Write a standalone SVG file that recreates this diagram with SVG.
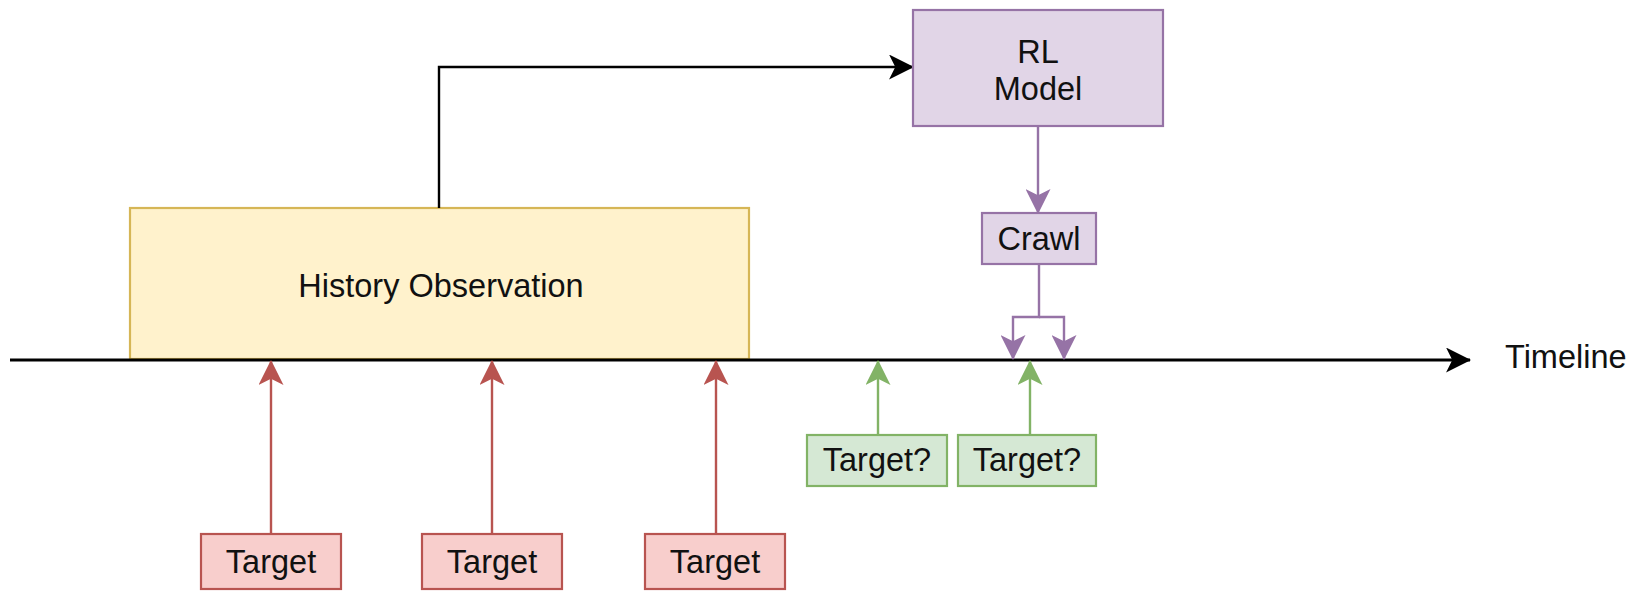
<svg xmlns="http://www.w3.org/2000/svg" width="1633" height="591" viewBox="0 0 1633 591">
  <style>
    .lbl { font-family: "Liberation Sans", Arial, sans-serif; font-size: 32.5px; fill: #111; text-anchor: middle; }
    .yellow { fill: #fff2cc; stroke: #d6b656; stroke-width: 2.2; }
    .purple { fill: #e1d5e7; stroke: #9673a6; stroke-width: 2.2; }
    .green { fill: #d5e8d4; stroke: #82b366; stroke-width: 2.2; }
    .red { fill: #f8cecc; stroke: #b85450; stroke-width: 2.2; }
    .edge { fill: none; stroke-width: 2.4; }
  </style>
  <defs>
    <marker id="arrBlack" viewBox="0 0 24 24" refX="23" refY="12" markerWidth="25" markerHeight="25" markerUnits="userSpaceOnUse" orient="auto">
      <path d="M0,0 L24,12 L0,24 L6,12 Z" fill="#000"/>
    </marker>
    <marker id="arrPurple" viewBox="0 0 24 24" refX="23" refY="12" markerWidth="25" markerHeight="25" markerUnits="userSpaceOnUse" orient="auto">
      <path d="M0,0 L24,12 L0,24 L6,12 Z" fill="#9673a6"/>
    </marker>
    <marker id="arrRed" viewBox="0 0 24 24" refX="23" refY="12" markerWidth="25" markerHeight="25" markerUnits="userSpaceOnUse" orient="auto">
      <path d="M0,0 L24,12 L0,24 L6,12 Z" fill="#b85450"/>
    </marker>
    <marker id="arrGreen" viewBox="0 0 24 24" refX="23" refY="12" markerWidth="25" markerHeight="25" markerUnits="userSpaceOnUse" orient="auto">
      <path d="M0,0 L24,12 L0,24 L6,12 Z" fill="#82b366"/>
    </marker>
  </defs>

  <rect width="1633" height="591" fill="#fff"/>

  <!-- history box sits on the timeline -->
  <g id="history">
    <rect class="yellow" x="130" y="208" width="619" height="151"/>
    <text class="lbl" x="441" y="297">History Observation</text>
  </g>

  <g id="connectors">
    <!-- timeline axis -->
    <path d="M10,360 H1470" stroke="#000" stroke-width="2.8" fill="none" marker-end="url(#arrBlack)"/>
    <!-- history to model -->
    <path class="edge" d="M439,208 V67 H913" stroke="#000" marker-end="url(#arrBlack)"/>
    <!-- model to crawl -->
    <path class="edge" d="M1038,126 V213" stroke="#9673a6" marker-end="url(#arrPurple)"/>
    <!-- crawl fan-out onto the timeline -->
    <path class="edge" d="M1039,264 V317 H1013 V359" stroke="#9673a6" marker-end="url(#arrPurple)"/>
    <path class="edge" d="M1039,317 H1064 V359" stroke="#9673a6" marker-end="url(#arrPurple)"/>
    <!-- observed targets -->
    <path class="edge" d="M271,534 V361" stroke="#b85450" marker-end="url(#arrRed)"/>
    <path class="edge" d="M492,534 V361" stroke="#b85450" marker-end="url(#arrRed)"/>
    <path class="edge" d="M716,534 V361" stroke="#b85450" marker-end="url(#arrRed)"/>
    <!-- unknown targets -->
    <path class="edge" d="M878,435 V361" stroke="#82b366" marker-end="url(#arrGreen)"/>
    <path class="edge" d="M1030,435 V361" stroke="#82b366" marker-end="url(#arrGreen)"/>
  </g>

  <g id="rl-model">
    <rect class="purple" x="913" y="10" width="250" height="116"/>
    <text class="lbl" x="1038" y="63">RL</text>
    <text class="lbl" x="1038" y="100">Model</text>
  </g>

  <g id="crawl">
    <rect class="purple" x="982" y="213" width="114" height="51"/>
    <text class="lbl" x="1039" y="250">Crawl</text>
  </g>

  <g id="target-1">
    <rect class="red" x="201" y="534" width="140" height="55"/>
    <text class="lbl" x="271" y="573">Target</text>
  </g>
  <g id="target-2">
    <rect class="red" x="422" y="534" width="140" height="55"/>
    <text class="lbl" x="492" y="573">Target</text>
  </g>
  <g id="target-3">
    <rect class="red" x="645" y="534" width="140" height="55"/>
    <text class="lbl" x="715" y="573">Target</text>
  </g>

  <g id="target-q1">
    <rect class="green" x="807" y="435" width="140" height="51"/>
    <text class="lbl" x="877" y="471">Target?</text>
  </g>
  <g id="target-q2">
    <rect class="green" x="958" y="435" width="138" height="51"/>
    <text class="lbl" x="1027" y="471">Target?</text>
  </g>

  <g id="timeline-label">
    <text class="lbl" x="1505" y="368" style="text-anchor:start">Timeline</text>
  </g>
</svg>
